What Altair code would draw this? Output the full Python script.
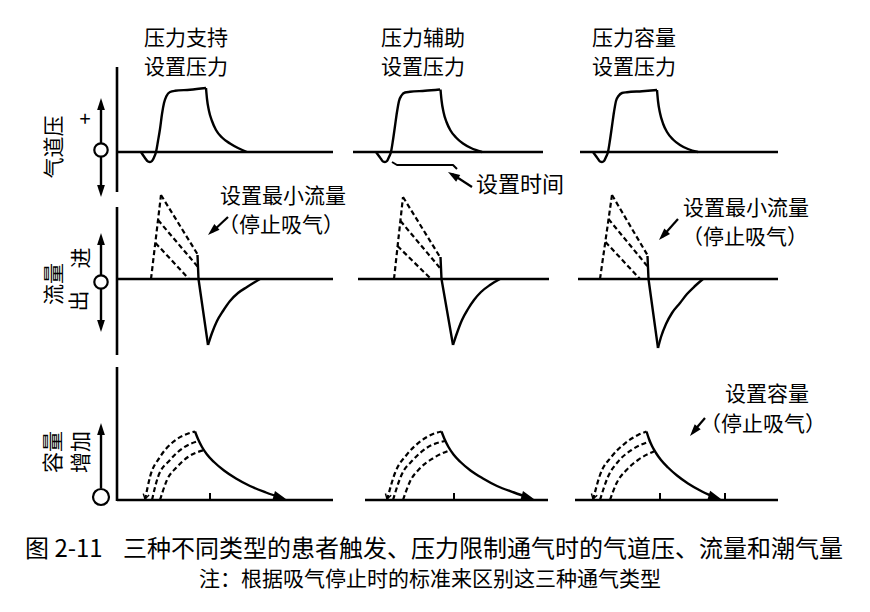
import altair as alt
import pandas as pd

FONT = "Noto Sans CJK SC"

# ---------------- data (diagram coordinates) ----------------
# left axis lines and baselines
axis_row1 = [(117, 67), (117, 192)]
axis_row2 = [(117, 207), (117, 355)]
axis_row3 = [(117, 367), (117, 501)]
base_p1 = [(117, 152), (333, 152)]
base_p2 = [(353, 152), (543, 152)]
base_p3 = [(580, 152), (778, 152)]
base_f1 = [(117, 279), (333, 279)]
base_f2 = [(358, 279), (549, 279)]
base_f3 = [(578, 279), (778, 279)]
base_v1 = [(117, 500), (333, 500)]
base_v2 = [(365, 500), (548, 500)]
base_v3 = [(575, 500), (778, 500)]
ticks = [[(210, 493), (210, 500)], [(454, 493), (454, 500)],
         [(660, 493), (660, 500)], [(725, 493), (725, 500)]]

# left double arrows (shafts)
shafts = [[(101, 104), (101, 191)], [(101, 239), (101, 326)], [(101, 429), (101, 488)]]
# annotation arrows (shafts) and the set-time bracket
note_shafts = [[(228, 217), (212, 232)], [(678, 219), (662, 237)],
               [(705, 418), (693, 432)], [(472, 187), (452, 174)]]
bracket = [(392, 162), (397, 165), (453, 165), (457, 169)]

# airway pressure curves
press1_rise = [(141, 152), (145, 158), (148, 161.5), (150, 162), (152, 161), (154, 157.5), (156, 152),
               (158, 141), (160, 129), (162, 114), (164, 103), (166.5, 96), (170, 92), (175, 90.8),
               (190, 89.8), (206, 88)]
press1_fall = [(206, 88), (207, 99), (209, 111), (212, 121), (216, 130), (222, 137.5), (230, 143.5),
               (238, 148), (247, 152)]
press2_rise = [(376, 152), (380, 157.5), (383, 161.5), (385, 162), (387, 161), (389, 157), (391, 152),
               (393, 140), (395, 126), (397, 112), (399, 101), (401.5, 95.5), (405, 92.5), (410, 91.8),
               (425, 90.8), (440, 89.5)]
press2_fall = [(440.5, 89.5), (441.5, 100), (443.5, 112), (446.5, 122), (450.5, 130.5), (456, 137.5),
               (463, 143.5), (471, 148), (482, 152)]
press3_rise = [(593, 152), (597, 157.5), (600, 161.5), (602, 162), (604, 161), (606, 157), (608, 152),
               (610, 140), (612, 126), (614, 112), (616, 101), (618.5, 96), (622, 93), (627, 92.2),
               (642, 91.2), (657, 90)]
press3_fall = [(657, 90), (658, 101), (660, 113), (663, 123.5), (667, 132), (673, 139.5), (680, 145),
               (688, 149), (698, 152)]

# flow curves
flow1_drop = [(197.5, 255), (198.5, 279), (208, 345)]
flow1_back = [(208, 345), (212, 333), (217, 321), (223, 311), (230, 301), (238, 293), (247, 287), (260, 279)]
flow2_drop = [(440.5, 257), (441.5, 279), (453, 345)]
flow2_back = [(453, 345), (457, 333), (462, 320), (468, 309), (474, 300), (481, 292), (490, 285), (500, 279)]
flow3_drop = [(647.5, 256), (648.5, 279), (658, 348)]
flow3_back = [(658, 348), (661, 337), (666, 324), (672, 313), (680, 303), (687, 294), (695, 286), (703, 279)]
flow1_dash = [[(151, 279), (161, 195)], [(161, 195), (198, 255)], [(158, 220), (198, 267)],
              [(155.5, 243), (189, 279)]]
flow2_dash = [[(394, 279), (403, 197)], [(403, 197), (440, 257)], [(400.5, 221), (440, 268)],
              [(397.5, 246), (431, 279)]]
flow3_dash = [[(600, 279), (612, 195)], [(612, 195), (648, 256)], [(608.5, 219), (648, 267)],
              [(605.5, 242), (640, 279)]]

# volume curves
vol1_arcs = [[(145, 500), (150, 477), (160, 457), (173, 442), (187, 434), (195, 431.5)],
             [(152, 500), (158, 477), (170, 460), (183, 448), (198.5, 441)],
             [(160, 500), (167, 480), (177, 467), (188, 457), (204, 450)]]
vol1_solid = [(195, 431.5), (198, 439), (202, 447), (207, 454.5), (214, 462), (224, 470.5),
              (236, 478.5), (250, 486), (266, 492.5), (283, 498.5)]
vol2_arcs = [[(387, 500), (395, 473), (406.5, 455), (420, 441.7), (433, 434), (441.5, 431.5)],
             [(393, 500), (401.5, 475), (413, 460), (426.5, 448), (445, 441)],
             [(403, 500), (410, 481.5), (420, 468.3), (433, 458.3), (450.5, 450)]]
vol2_solid = [(441.5, 431.5), (444.5, 439), (448.5, 447), (453.5, 454.5), (460.5, 462), (470.5, 470.5),
              (483, 478.5), (497, 486), (514, 492.5), (531, 498.5)]
vol3_arcs = [[(593, 500), (600, 475), (611.5, 456.7), (625, 443.3), (638, 435), (646.5, 431.5)],
             [(600, 500), (608, 476.7), (618, 461.7), (631.5, 450), (649.5, 441.5)],
             [(610, 500), (616.5, 483.3), (626.5, 470), (638, 460), (655, 451)]]
vol3_solid = [(646.5, 431.5), (649, 439), (652, 446), (656, 453), (661, 460), (668, 467.5),
              (677, 475.5), (688, 483.5), (702, 491.5), (718, 498.5)]

# arrowheads: tip x, tip y, direction (deg, clockwise from +x)
head_x = [101, 101, 101, 101, 101, 208, 659, 690, 448]
head_y = [98, 197, 233, 332, 423, 235, 240, 436, 172]
head_ang = [270, 90, 270, 90, 270, 138, 133, 130, 212]
# arrowheads at the end of the volume curves
vend_x = [287, 535, 722]
vend_y = [499.8, 499.8, 499.8]
vend_ang = [16, 16, 17]
# small open heads at the start of the outer volume arcs
vhead_x = [145, 387, 593]
vhead_y = [499, 499, 499]
vhead_ang = [104, 106, 106]

# zero-reference circles
circ_x = [101, 101, 101]
circ_y = [150, 282, 497]
circ_size = [180, 180, 255]

# texts
txt = ["压力支持", "设置压力", "压力辅助", "设置压力", "压力容量", "设置压力",
       "气道压", "+", "流量", "进", "出", "容量", "增加",
       "设置最小流量", "（停止吸气）", "设置时间",
       "设置最小流量", "（停止吸气）", "设置容量", "（停止吸气）"]
txt_x = [186, 186, 423, 423, 634, 634,
         55, 85, 55, 82, 80, 54, 82,
         283, 281, 520,
         746, 745, 767, 763]
txt_y = [39, 68, 39, 68, 39, 68,
         147, 120, 284, 258, 301, 452, 452,
         197, 226, 185,
         209, 238, 395, 425]
txt_size = [21, 21, 21, 21, 21, 21,
            21, 20, 21, 21, 21, 21, 21,
            21, 21, 22,
            21, 21, 21, 21]
txt_ang = [0, 0, 0, 0, 0, 0,
           270, 0, 270, 270, 270, 270, 270,
           0, 0, 0,
           0, 0, 0, 0]

cap_txt = ["图 2-11", "三种不同类型的患者触发、压力限制通气时的气道压、流量和潮气量",
           "注：根据吸气停止时的标准来区别这三种通气类型"]
cap_x = [25, 123, 199]
cap_y = [550, 550, 580]
cap_size = [24, 24, 21]

# ---------------- build tables ----------------
rows = []


def add(name, pts, kind, w):
    for i, (x, y) in enumerate(pts):
        rows.append({"seg": name, "i": i, "x": x, "y": y, "kind": kind, "w": w})


for n, s in [("a1", axis_row1), ("a2", axis_row2), ("a3", axis_row3),
             ("bp1", base_p1), ("bp2", base_p2), ("bp3", base_p3),
             ("bf1", base_f1), ("bf2", base_f2), ("bf3", base_f3),
             ("bv1", base_v1), ("bv2", base_v2), ("bv3", base_v3)]:
    add(n, s, "lin", 2.6)
for k, s in enumerate(ticks):
    add(f"t{k}", s, "lin", 2.0)
for k, s in enumerate(shafts):
    add(f"sh{k}", s, "lin", 2.4)
for k, s in enumerate(note_shafts):
    add(f"ns{k}", s, "lin", 2.2)
add("br", bracket, "lin", 2.0)
for n, s in [("f1d", flow1_drop), ("f2d", flow2_drop), ("f3d", flow3_drop)]:
    add(n, s, "lin", 2.4)
for n, s in [("p1r", press1_rise), ("p1f", press1_fall), ("p2r", press2_rise), ("p2f", press2_fall),
             ("p3r", press3_rise), ("p3f", press3_fall),
             ("f1b", flow1_back), ("f2b", flow2_back), ("f3b", flow3_back),
             ("v1s", vol1_solid), ("v2s", vol2_solid), ("v3s", vol3_solid)]:
    add(n, s, "smooth", 2.4)
for tag, group in [("fd1", flow1_dash), ("fd2", flow2_dash), ("fd3", flow3_dash)]:
    for k, s in enumerate(group):
        add(f"{tag}{k}", s, "dlin", 2.2)
for tag, group in [("va1", vol1_arcs), ("va2", vol2_arcs), ("va3", vol3_arcs)]:
    for k, s in enumerate(group):
        add(f"{tag}{k}", s, "dsmooth", 2.2)

lines = pd.DataFrame(rows)
heads = pd.DataFrame({"x": head_x, "y": head_y, "ang": head_ang})
vends = pd.DataFrame({"x": vend_x, "y": vend_y, "ang": vend_ang})
vheads = pd.DataFrame({"x": vhead_x, "y": vhead_y, "ang": vhead_ang})
circles = pd.DataFrame({"x": circ_x, "y": circ_y, "s": circ_size})
texts = pd.DataFrame({"t": txt, "x": txt_x, "y": txt_y, "s": txt_size, "a": txt_ang})
caps = pd.DataFrame({"t": cap_txt, "x": cap_x, "y": cap_y, "s": cap_size})

X = alt.X("x:Q", scale=alt.Scale(domain=[8, 862], nice=False, zero=False), axis=None)
Y = alt.Y("y:Q", scale=alt.Scale(domain=[8, 604], nice=False, zero=False, reverse=True), axis=None)


def line_layer(kind, interp, dash=None):
    kw = dict(color="black", interpolate=interp, strokeCap="butt", strokeJoin="round")
    if dash:
        kw["strokeDash"] = dash
    return alt.Chart(lines).transform_filter(alt.datum.kind == kind).mark_line(**kw).encode(
        x=X, y=Y, detail="seg:N", order="i:Q",
        strokeWidth=alt.StrokeWidth("w:Q", scale=None))


layers = [
    line_layer("lin", "linear"),
    line_layer("smooth", "monotone"),
    line_layer("dlin", "linear", [5, 3]),
    line_layer("dsmooth", "monotone", [5, 3]),
    alt.Chart(heads).mark_point(shape="M0,0L-2,-0.65L-2,0.65Z", filled=True, color="black",
                                opacity=1, size=144).encode(
        x=X, y=Y, angle=alt.Angle("ang:Q", scale=None)),
    alt.Chart(vends).mark_point(shape="M0,0L-2,-0.75L-2,0.75Z", filled=True, color="black",
                                opacity=1, size=196).encode(
        x=X, y=Y, angle=alt.Angle("ang:Q", scale=None)),
    alt.Chart(vheads).mark_point(shape="M-1.6,-1L0,0L-1.6,1", filled=False, color="black",
                                 opacity=1, size=36, strokeWidth=1.5).encode(
        x=X, y=Y, angle=alt.Angle("ang:Q", scale=None)),
    alt.Chart(circles).mark_point(shape="circle", filled=True, fill="white", stroke="black",
                                  strokeWidth=2.2, opacity=1).encode(
        x=X, y=Y, size=alt.Size("s:Q", scale=None)),
    alt.Chart(texts).mark_text(font=FONT, align="center", baseline="middle", color="black").encode(
        x=X, y=Y, text="t:N", size=alt.Size("s:Q", scale=None),
        angle=alt.Angle("a:Q", scale=None)),
    alt.Chart(caps).mark_text(font=FONT, align="left", baseline="middle", color="black").encode(
        x=X, y=Y, text="t:N", size=alt.Size("s:Q", scale=None)),
]

chart = alt.layer(*layers).properties(
    width=854, height=596, padding=0,
    autosize=alt.AutoSizeParams(type="fit", contains="padding"),
    background="white",
).configure_view(stroke=None)

chart.save("out.html", embed_options={"renderer": "svg", "actions": False})
